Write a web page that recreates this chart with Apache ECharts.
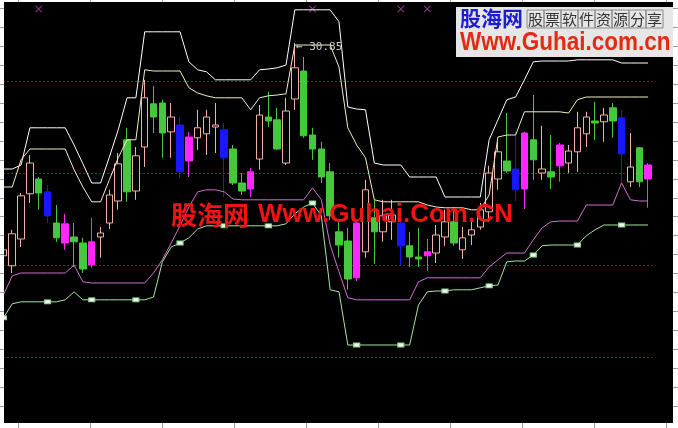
<!DOCTYPE html>
<html><head><meta charset="utf-8">
<script src="https://cdn.jsdelivr.net/npm/echarts@6/dist/echarts.min.js"></script>
<style>html,body{margin:0;padding:0;background:#000}#c{width:678px;height:428px}</style>
</head><body><div id="c"></div>
<script>
// ---- data ----
const kinds = ['u','u','u','u','g','b','g','m','g','g',
  'm','u','u','u','g','u','u','g','g','u',
  'b','m','u','u','u','b','g','g','m','u',
  'g','g','u','u','g','g','g','g','g','g',
  'm','u','g','u','u','b','g','g','m','u',
  'u','g','u','u','u','u','u','g','b','m',
  'g','u','g','m','u','u','u','g','u','g',
  'b','u','g','m'];
const opens = [25.53,25.28,25.95,27.08,27.45,27.13,26.35,26.33,26.00,25.85,
  25.88,26.00,26.35,26.90,28.43,27.15,28.25,29.33,29.35,28.63,
  28.80,28.50,28.48,28.58,28.75,28.68,28.20,27.35,27.63,27.95,
  29.00,28.93,27.85,29.45,30.15,28.55,28.20,27.63,26.13,25.90,
  26.35,25.63,26.48,26.13,26.38,26.35,25.78,25.50,25.63,25.60,
  26.00,26.38,25.68,26.05,26.25,26.63,27.45,27.90,27.70,27.20,
  28.43,27.60,27.63,27.78,27.85,28.13,28.58,28.90,28.88,29.23,
  28.98,27.38,28.23,27.80];
const closes = [25.68,26.08,27.03,27.85,27.10,26.53,25.98,25.85,25.88,25.20,
  25.30,26.10,27.05,27.83,27.13,28.03,29.48,29.00,28.60,29.00,
  27.63,27.90,28.73,29.00,28.80,27.98,27.35,27.15,27.20,29.05,
  28.90,28.20,29.15,30.23,28.53,28.20,27.50,26.53,25.80,24.95,
  24.98,27.18,26.13,26.53,26.55,25.78,25.50,25.45,25.53,26.05,
  26.38,25.85,25.98,26.18,26.68,27.60,28.13,27.65,27.18,28.60,
  27.93,27.70,27.50,28.30,28.15,28.73,29.00,28.85,29.05,28.90,
  28.08,27.75,27.38,27.45];
const lows = [25.38,25.10,25.75,26.85,26.68,26.35,25.88,25.68,25.25,25.10,
  25.23,25.48,26.20,26.68,26.88,26.93,27.75,28.60,27.98,27.98,
  27.48,27.50,28.18,28.05,28.10,27.00,27.30,27.05,27.00,27.68,
  28.75,28.18,27.80,29.18,28.48,27.93,27.35,26.43,25.48,24.68,
  24.90,25.48,25.33,25.88,25.93,25.30,25.25,25.25,25.15,25.35,
  25.78,25.78,25.45,25.80,26.18,26.38,27.18,27.60,26.90,26.70,
  27.43,27.43,27.20,27.38,27.60,27.63,28.25,28.43,28.38,28.48,
  27.35,27.25,27.25,26.73];
const highs = [25.80,26.18,27.10,28.05,27.50,27.30,26.80,26.58,26.35,25.98,
  26.48,26.25,27.18,28.10,28.73,28.25,29.93,29.78,29.43,29.35,
  29.00,28.63,29.18,29.18,29.35,28.85,28.30,27.60,27.73,29.30,
  29.63,29.23,29.48,30.85,30.50,28.73,28.38,27.85,26.38,26.23,
  26.43,27.43,26.93,26.93,26.93,26.53,26.13,26.23,25.95,26.30,
  26.68,26.75,26.25,26.48,26.85,27.78,28.38,29.10,28.63,28.63,
  29.55,28.78,28.55,28.35,28.30,29.13,29.13,29.38,29.23,29.35,
  29.18,28.60,28.25,27.85];
// upper bands
const outerBand = [27.70,27.70,27.80,28.73,28.73,28.73,28.73,28.73,28.30,27.83,
  27.35,27.35,28.00,28.68,29.48,29.48,31.13,31.13,31.13,31.13,
  31.13,30.38,30.18,30.13,29.93,29.93,29.93,29.93,29.93,30.18,
  30.20,30.23,30.30,31.68,31.68,31.68,31.68,31.68,31.38,29.25,
  29.20,29.18,27.85,27.80,27.80,27.80,27.50,27.50,27.50,27.50,
  27.00,27.00,27.00,27.00,27.00,28.43,28.93,29.43,29.50,29.93,
  30.38,30.40,30.40,30.40,30.40,30.43,30.43,30.43,30.43,30.43,
  30.35,30.35,30.35,30.35];
const innerBand = [27.25,27.25,27.93,28.20,28.20,28.20,28.20,28.20,27.68,27.25,
  26.88,26.88,27.43,27.98,28.43,28.43,30.18,30.15,30.15,30.15,
  30.15,29.73,29.60,29.53,29.48,29.48,29.48,29.48,29.18,29.48,
  29.53,29.55,29.58,30.80,30.80,30.80,30.80,30.80,30.25,28.73,
  28.30,27.98,26.93,26.88,26.88,26.88,26.88,26.88,26.80,26.75,
  26.73,26.73,26.73,26.68,26.68,27.05,28.50,28.55,28.55,29.13,
  29.13,29.13,29.13,29.13,29.10,29.43,29.50,29.50,29.50,29.50,
  29.50,29.50,29.50,29.50];
// lower bands
const pinkBand = [24.55,25.03,25.10,25.10,25.10,25.10,25.10,25.10,25.30,24.88,
  24.85,24.85,24.85,24.85,24.85,24.85,24.85,25.10,25.43,25.85,
  26.28,26.75,27.13,27.18,27.18,27.13,26.95,26.93,26.93,26.93,
  26.93,26.93,26.93,26.93,26.93,27.23,26.93,25.80,25.13,24.48,
  24.43,24.43,24.43,24.43,24.43,24.43,24.43,24.88,24.98,24.98,
  24.98,24.98,24.98,24.98,24.98,25.25,25.43,25.60,25.60,25.60,
  25.93,26.23,26.38,26.40,26.40,26.40,26.80,26.80,26.80,26.80,
  27.35,26.93,26.90,26.90];
const greenBand = [23.98,24.33,24.38,24.38,24.38,24.38,24.38,24.43,24.63,24.43,
  24.43,24.43,24.43,24.43,24.43,24.43,24.43,24.50,25.38,25.75,
  25.85,25.98,26.20,26.28,26.28,26.28,26.28,26.28,26.28,26.28,
  26.28,26.28,26.33,26.58,26.75,26.85,26.53,24.68,24.63,23.30,
  23.30,23.30,23.30,23.30,23.30,23.30,23.30,24.30,24.63,24.65,
  24.65,24.68,24.68,24.68,24.73,24.78,24.80,25.38,25.40,25.40,
  25.55,25.78,25.80,25.80,25.80,25.80,26.03,26.18,26.30,26.30,
  26.30,26.30,26.30,26.30];
const markerDays = [0,5,10,15,20,25,30,35,40,45,50,55,60,65,70];
const signalDays = [4,35,45,48];
const signalLevel = 31.7;
const gridLevels = { min: 20.7, max: 32.2, step: 2.3 };

// ---- styles ----
const palette = {
  u: { fill: '#000000', edge: '#f0b0a6' },
  g: { fill: '#46c83e', edge: '#46c83e' },
  b: { fill: '#1818ff', edge: '#1818ff' },
  m: { fill: '#ff26ff', edge: '#ff26ff' }
};
const days = closes.map((_, i) => 'T' + (i + 1));
const candleData = opens.map((o, i) => {
  const p = palette[kinds[i]];
  return {
    value: [o, closes[i], lows[i], highs[i]],
    itemStyle: { color: p.fill, color0: p.fill, borderColor: p.edge, borderColor0: p.edge, borderColorDoji: p.edge, borderWidth: 1 }
  };
});

// frame decoration
const W = 678, H = 428;
const graphics = [];
const white = '#ffffff', tickCol = '#9a9a9a';
[[0,0,4,H],[0,0,W,2],[0,423,W,5],[673,0,5,H]].forEach(r => graphics.push({
  type: 'rect', silent: true, z: 200, shape: { x: r[0], y: r[1], width: r[2], height: r[3] }, style: { fill: white }
}));
for (let k = 0; k < 10; k++) {
  const x = 18.5 + 72 * k;
  graphics.push({ type: 'line', silent: true, z: 201, shape: { x1: x, y1: 423, x2: x, y2: 428 }, style: { stroke: tickCol, lineWidth: 1 } });
  graphics.push({ type: 'line', silent: true, z: 201, shape: { x1: x, y1: 0, x2: x, y2: 2 }, style: { stroke: tickCol, lineWidth: 1 } });
}
for (let k = 0; k < 22; k++) {
  const y = Math.round(8 + 18.95 * k) + 0.5;
  graphics.push({ type: 'line', silent: true, z: 201, shape: { x1: 0, y1: y, x2: 4, y2: y }, style: { stroke: tickCol, lineWidth: 1 } });
  graphics.push({ type: 'line', silent: true, z: 201, shape: { x1: 673, y1: y, x2: 678, y2: y }, style: { stroke: tickCol, lineWidth: 1 } });
}
// watermark
graphics.push({ type: 'text', silent: true, z: 210, x: 171, y: 215,
  style: { text: '股海网', fill: '#f01414', font: 'bold 26px "Noto Sans CJK SC"', verticalAlign: 'middle' } });
graphics.push({ type: 'text', silent: true, z: 210, x: 258, y: 215,
  style: { text: 'Www.Guhai.Com.CN', fill: '#f01414', font: 'bold 26px "Liberation Sans"', verticalAlign: 'middle' } });
// logo
graphics.push({ type: 'rect', silent: true, z: 205, shape: { x: 456, y: 7, width: 217, height: 50 }, style: { fill: '#e6e6e6' } });
graphics.push({ type: 'text', silent: true, z: 210, x: 460, y: 18.5,
  style: { text: '股海网', fill: '#1c1cd2', font: 'bold 21px "Noto Sans CJK SC"', verticalAlign: 'middle' } });
const slogan = '股票软件资源分享'.split('').map(c => '{c|' + c + '}').join('');
graphics.push({ type: 'text', silent: true, z: 210, x: 527, y: 19,
  style: { text: slogan, verticalAlign: 'middle',
    rich: { c: { width: 17, height: 18, align: 'center', verticalAlign: 'middle', fontSize: 15, fontFamily: 'Noto Sans CJK SC', fill: '#333333', color: '#333333', borderColor: '#8a8a8a', borderWidth: 1 } } } });
graphics.push({ type: 'text', silent: true, z: 210, x: 460, y: 43, scaleY: 1.12,
  style: { text: 'Www.Guhai.com.cn', fill: '#e42a10', font: 'bold 22.5px "Liberation Sans"', verticalAlign: 'middle' } });

const chart = echarts.init(document.getElementById('c'), null, { renderer: 'canvas' });
chart.setOption({
  animation: false,
  backgroundColor: '#000000',
  grid: { left: -1, width: 653.5, top: -11, height: 460, containLabel: false, outerBoundsMode: 'none' },
  xAxis: { type: 'category', data: days, boundaryGap: true,
    axisLine: { show: false }, axisTick: { show: false }, axisLabel: { show: false }, splitLine: { show: false } },
  yAxis: { type: 'value', min: gridLevels.min, max: gridLevels.max, interval: gridLevels.step,
    axisLine: { show: false }, axisTick: { show: false }, axisLabel: { show: false },
    splitLine: { show: true, lineStyle: { color: '#8a2020', width: 1, type: [2, 2] } } },
  series: [
    { type: 'candlestick', name: 'K', data: candleData, barWidth: 7, silent: true,
      markPoint: { symbol: 'circle', symbolSize: 0.1, itemStyle: { color: 'rgba(0,0,0,0)' },
        data: [{ type: 'max', valueDim: 'highest' }],
        label: { show: true, position: 'right', distance: 1, offset: [0, 4], color: '#cccccc',
          fontFamily: 'DejaVu Sans Mono', fontSize: 11, formatter: p => '\u2190 ' + Number(p.value).toFixed(2) } } },
    { type: 'line', name: 'outer', data: outerBand, symbol: 'none', silent: true, lineStyle: { color: '#ffffff', width: 1 } },
    { type: 'line', name: 'inner', data: innerBand, symbol: 'none', silent: true, lineStyle: { color: '#f4efc4', width: 1 } },
    { type: 'line', name: 'pink', data: pinkBand, symbol: 'none', silent: true, lineStyle: { color: '#d070d0', width: 1 } },
    { type: 'line', name: 'green', data: greenBand, silent: true, showSymbol: true, showAllSymbol: true,
      symbol: (v, p) => markerDays.indexOf(p.dataIndex) >= 0 ? 'rect' : 'none', symbolSize: [6, 4],
      itemStyle: { color: '#eefaee', borderColor: '#90d090', borderWidth: 1 },
      lineStyle: { color: '#a6e6a6', width: 1 } },
    { type: 'scatter', name: 'signal', silent: true, data: signalDays.map(d => [d, signalLevel]),
      symbol: 'path://M0,1L1,0L5,4L9,0L10,1L6,5L10,9L9,10L5,6L1,10L0,9L4,5Z', symbolSize: 7,
      itemStyle: { color: '#a64aa6' } }
  ],
  graphic: graphics
});
</script></body></html>
